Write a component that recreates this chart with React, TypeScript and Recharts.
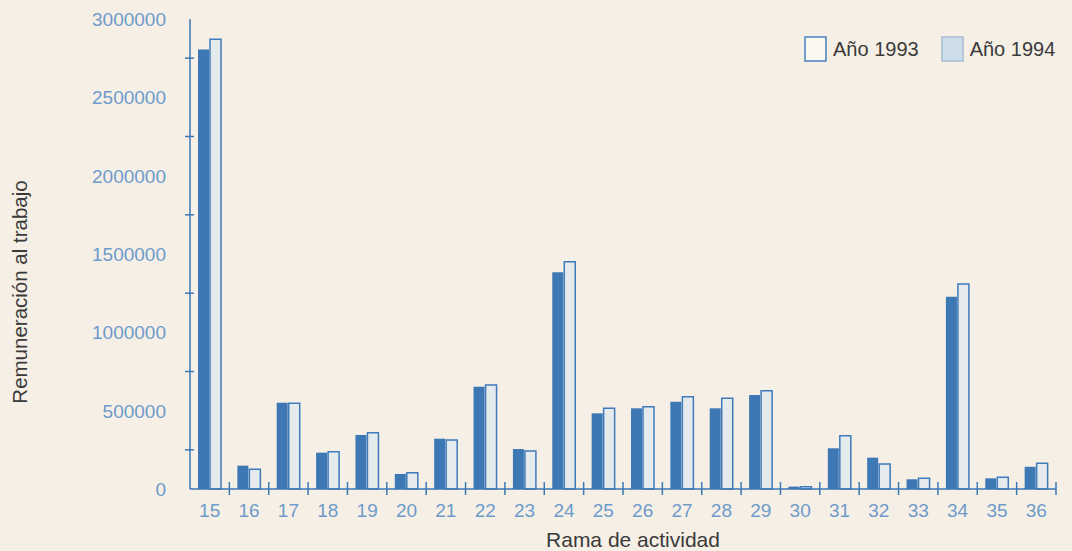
import { BarChart, Bar, XAxis, YAxis, Legend } from "recharts";

const ramas = ["15", "16", "17", "18", "19", "20", "21", "22", "23", "24", "25", "26", "27", "28", "29", "30", "31", "32", "33", "34", "35", "36"];
const anio1993 = [2806000, 149000, 551000, 232000, 345000, 96000, 321000, 653000, 255000, 1383000, 483000, 515000, 557000, 515000, 600000, 15000, 260000, 200000, 62000, 1227000, 68000, 142000];
const anio1994 = [2870000, 126000, 547000, 238000, 359000, 104000, 313000, 664000, 243000, 1450000, 515000, 525000, 589000, 579000, 627000, 15000, 340000, 160000, 68000, 1308000, 75000, 164000];
const yTicks = [0, 250000, 500000, 750000, 1000000, 1250000, 1500000, 1750000, 2000000, 2250000, 2500000, 2750000, 3000000];

const data = ramas.map((rama, i) => ({ rama, a1993: anio1993[i], a1994: anio1994[i] }));

const W = 1072;
const H = 551;
const LEFT = 190;
const RIGHT = 16;
const BAND = (W - LEFT - RIGHT) / ramas.length;

const FONT = "'Liberation Sans', Arial, Helvetica, sans-serif";
const BLUE = "#3d77b4";
const TICK_BLUE = "#6d9bcb";
const TEXT = "#3a3a3a";

const XTick = ({ x, y, payload }: any) => (
  <g>
    <line x1={x + BAND / 2} x2={x + BAND / 2} y1={y - 7} y2={y + 6} stroke={BLUE} strokeWidth={1.5} />
    <text x={x} y={y + 28} textAnchor="middle" fill={TICK_BLUE} fontSize={19} fontFamily={FONT}>
      {payload.value}
    </text>
  </g>
);

const YTick = ({ x, y, payload }: any) =>
  payload.value % 500000 === 0 ? (
    <text x={x - 24} y={y} dy={7} textAnchor="end" fill={TICK_BLUE} fontSize={19} fontFamily={FONT}>
      {payload.value}
    </text>
  ) : (
    <line x1={x - 5} x2={x + 4} y1={y} y2={y} stroke={BLUE} strokeWidth={1.5} />
  );

const legendBoxes = [
  { fill: "#fbf7f1", stroke: "#4a82c0" },
  { fill: "#cddce8", stroke: "#a6bfd6" },
];

const LegendContent = ({ payload }: any) => (
  <div style={{ display: "flex", alignItems: "center", fontFamily: FONT, fontSize: 20, color: TEXT, whiteSpace: "nowrap" }}>
    {(payload || []).map((entry: any, i: number) => (
      <div key={entry.value} style={{ display: "flex", alignItems: "center", marginRight: 22 }}>
        <svg width={24} height={27} style={{ marginRight: 5 }}>
          <rect x={1} y={1} width={21} height={24} fill={legendBoxes[i].fill} stroke={legendBoxes[i].stroke} strokeWidth={1.5} />
        </svg>
        <span>{entry.value}</span>
      </div>
    ))}
  </div>
);

export default function App() {
  return (
    <div style={{ position: "absolute", left: 0, top: 0, width: W, height: H, background: "#f6efe6" }}>
      <BarChart width={W} height={H} data={data} margin={{ top: 19, right: RIGHT, bottom: 0, left: 0 }} barSize={11} barGap={1}>
        <XAxis
          dataKey="rama"
          height={62}
          interval={0}
          tickSize={0}
          tickMargin={0}
          tickLine={false}
          axisLine={{ stroke: BLUE, strokeWidth: 1.5 }}
          tick={<XTick />}
          label={({ viewBox }: any) => (
            <text x={viewBox.x + viewBox.width / 2 + 10} y={viewBox.y + 58} textAnchor="middle" fill={TEXT} fontSize={21} fontFamily={FONT}>
              Rama de actividad
            </text>
          )}
        />
        <YAxis
          width={LEFT}
          domain={[0, 3000000]}
          ticks={yTicks}
          interval={0}
          tickSize={0}
          tickMargin={0}
          tickLine={false}
          axisLine={{ stroke: BLUE, strokeWidth: 1.5 }}
          tick={<YTick />}
          label={({ viewBox }: any) => (
            <text
              x={19}
              y={viewBox.y + viewBox.height / 2 + 38}
              textAnchor="middle"
              dominantBaseline="central"
              fill={TEXT}
              fontSize={20.5}
              fontFamily={FONT}
              transform={`rotate(-90, 19, ${viewBox.y + viewBox.height / 2 + 38})`}
            >
              Remuneración al trabajo
            </text>
          )}
        />
        <Legend
          content={<LegendContent />}
          layout="horizontal"
          verticalAlign="middle"
          align="center"
          wrapperStyle={{ top: 36, left: 804, width: 268 }}
        />
        <Bar dataKey="a1993" name="Año 1993" fill={BLUE} isAnimationActive={false} />
        <Bar dataKey="a1994" name="Año 1994" fill="#e5eaed" stroke="#3f7bbb" strokeWidth={1.5} isAnimationActive={false} />
      </BarChart>
    </div>
  );
}
